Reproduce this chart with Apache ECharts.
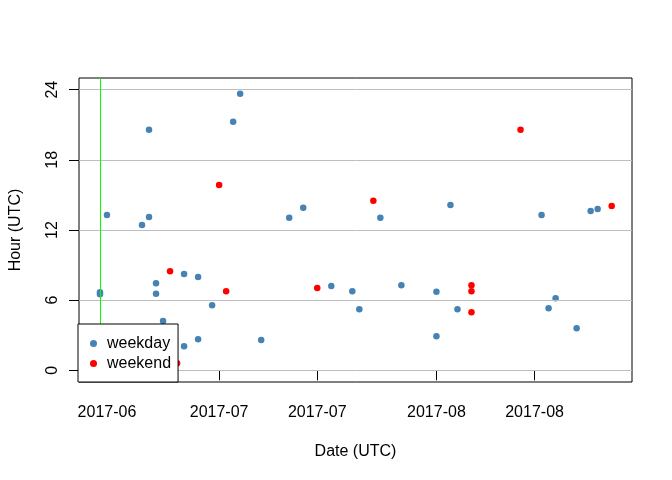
<!DOCTYPE html>
<html>
<head>
<meta charset="utf-8">
<script src="https://cdn.jsdelivr.net/npm/echarts@6/dist/echarts.min.js"></script>
<style>html,body{margin:0;padding:0;background:#fff}#c{width:672px;height:480px}</style>
</head>
<body>
<div id="c"></div>
<script>
// ---- data ----
const weekdayDates = ["2017-06-14","2017-06-14","2017-06-15","2017-06-20","2017-06-21","2017-06-21","2017-06-22","2017-06-22","2017-06-23","2017-06-26","2017-06-26","2017-06-28","2017-06-28","2017-06-30","2017-07-03","2017-07-04","2017-07-07","2017-07-11","2017-07-13","2017-07-17","2017-07-20","2017-07-21","2017-07-24","2017-07-27","2017-08-01","2017-08-01","2017-08-03","2017-08-04","2017-08-16","2017-08-17","2017-08-18","2017-08-21","2017-08-23","2017-08-24"];
const weekdayHours = [6.68,6.51,13.28,12.42,20.57,13.11,7.45,6.54,4.22,8.23,2.06,7.97,2.66,5.57,21.25,23.65,2.6,13.05,13.9,7.2,6.77,5.23,13.05,7.28,6.71,2.91,14.14,5.23,13.28,5.31,6.17,3.6,13.62,13.8];
const weekendDates = ["2017-06-24","2017-06-25","2017-07-01","2017-07-02","2017-07-15","2017-07-23","2017-08-06","2017-08-06","2017-08-06","2017-08-13","2017-08-26"];
const weekendHours = [8.48,0.6,15.85,6.77,7.03,14.5,7.28,6.77,4.97,20.57,14.05];
const xTickDates = ["2017-06-15","2017-07-01","2017-07-15","2017-08-01","2017-08-15"];
const yTicks = [0,6,12,18,24];
const refLineDate = "2017-06-14";

// ---- helpers ----
function doy(s){const p=s.split('-').map(Number);return (Date.UTC(p[0],p[1]-1,p[2])-Date.UTC(p[0],0,0))/86400000;}
function doyLabel(d){const t=new Date(Date.UTC(2017,0,0)+Math.round(d)*86400000);return t.getUTCFullYear()+'-'+String(t.getUTCMonth()+1).padStart(2,'0');}
const xTicks = xTickDates.map(doy);
const FONT = "'Liberation Sans', Arial, sans-serif";

const chart = echarts.init(document.getElementById('c'), null, {renderer:'canvas'});
chart.setOption({
  animation:false,
  backgroundColor:'#fff',
  grid:{left:78,right:40,top:78,bottom:98,show:true,borderColor:'#000',borderWidth:1,backgroundColor:'transparent'},
  xAxis:{
    type:'value', min:162.01, max:240.9,
    axisLine:{show:false},
    splitLine:{show:false},
    axisTick:{show:true, length:10, customValues:xTicks, lineStyle:{color:'#000'}},
    axisLabel:{show:true, customValues:xTicks, formatter:v=>doyLabel(v), margin:23, fontSize:16, fontFamily:FONT, color:'#000'},
    name:'Date (UTC)', nameLocation:'middle', nameGap:62, nameTextStyle:{fontSize:16,fontFamily:FONT,color:'#000'}
  },
  yAxis:{
    type:'value', min:-1.0, max:25.0,
    axisLine:{show:false},
    splitLine:{show:false},
    axisTick:{show:true, length:10, customValues:yTicks, lineStyle:{color:'#000'}},
    axisLabel:{show:true, customValues:yTicks, rotate:90, margin:18, fontSize:16, fontFamily:FONT, color:'#000'},
    name:'Hour (UTC)', nameLocation:'middle', nameGap:55, nameRotate:90, nameTextStyle:{fontSize:16,fontFamily:FONT,color:'#000'}
  },
  legend:{
    data:['weekday','weekend'], orient:'vertical', left:78, top:324,
    backgroundColor:'#fff', borderColor:'#000', borderWidth:1,
    padding:[10,7,9,12], itemGap:1, itemWidth:17, itemHeight:7, icon:'circle',
    textStyle:{fontSize:16, fontFamily:FONT, color:'#000', lineHeight:19, padding:[0,0,0,0]},
    z:10
  },
  series:[
    {type:'scatter', name:'grid', data:[], z:1, silent:true,
     markLine:{silent:true, symbol:['none','none'], label:{show:false}, animation:false,
       lineStyle:{color:'#BEBEBE', type:'solid', width:1},
       data:yTicks.map(v=>({yAxis:v}))}},
    {type:'scatter', name:'weekday', symbolSize:6.5, z:2,
     itemStyle:{color:'#4682B4', opacity:1},
     data:weekdayDates.map((d,i)=>[doy(d),weekdayHours[i]])},
    {type:'scatter', name:'weekend', symbolSize:6.5, z:2,
     itemStyle:{color:'#FF0000', opacity:1},
     data:weekendDates.map((d,i)=>[doy(d),weekendHours[i]])},
    {type:'scatter', name:'ref', data:[], z:3, silent:true,
     markLine:{silent:true, symbol:['none','none'], label:{show:false}, animation:false,
       lineStyle:{color:'#00FF00', type:'solid', width:1},
       data:[{xAxis:doy(refLineDate)}]}}
  ]
});
</script>
</body>
</html>
